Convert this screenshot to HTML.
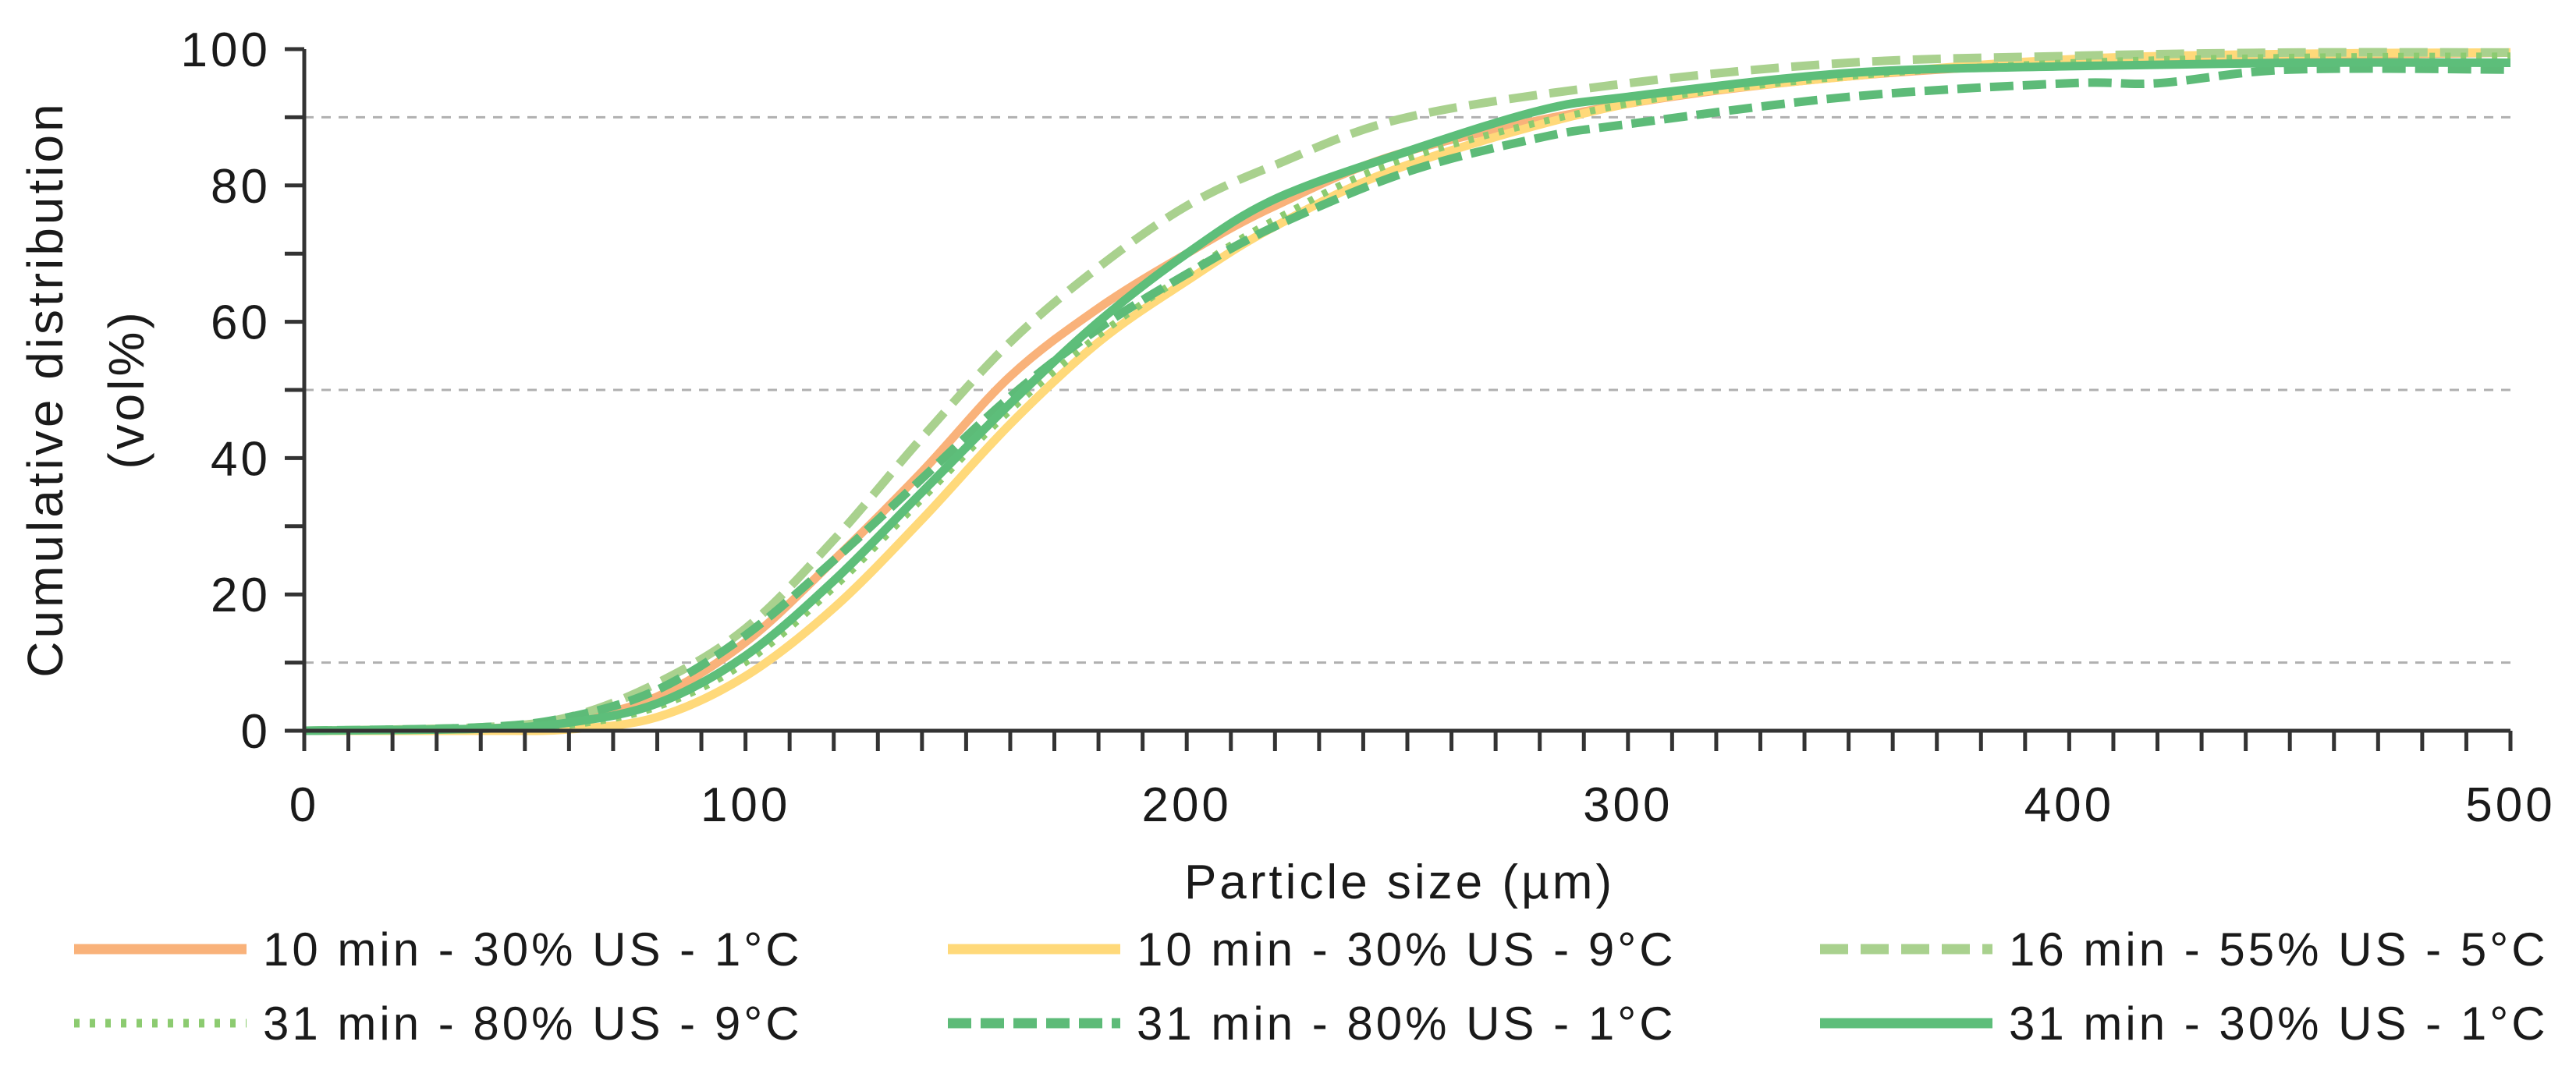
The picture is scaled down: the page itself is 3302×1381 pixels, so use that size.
<!DOCTYPE html>
<html><head><meta charset="utf-8"><style>
html,body{margin:0;padding:0;background:#fff;}
svg text{font-family:"Liberation Sans",sans-serif;fill:#1a1a1a;}
</style></head><body>
<svg id="chart" width="3302" height="1376" viewBox="0 0 3302 1376">
<g id="grid"></g>
<g id="series"></g>
<g id="axes"></g>
<text x="1794" y="1152" font-size="62" letter-spacing="4" text-anchor="middle">Particle size (µm)</text>
<text transform="translate(80,499) rotate(-90)" font-size="64" letter-spacing="4" text-anchor="middle">Cumulative distribution</text>
<text transform="translate(184,499) rotate(-90)" font-size="64" letter-spacing="4" text-anchor="middle">(vol%)</text>
<g id="legend"></g>
</svg>
<script>
const xTicks=[0,100,200,300,400,500];
const yTicks=[0,20,40,60,80,100];
const gridVals=[10,50,90];
const names=["10 min - 30% US - 1°C","10 min - 30% US - 9°C","16 min - 55% US - 5°C","31 min - 80% US - 9°C","31 min - 80% US - 1°C","31 min - 30% US - 1°C"];
const xs0=[0,40,60,80,100,120,140,160,180,200,220,250,300,350,400,450,500];
const s0=[0,0.3,1.5,5,13,25,38,52,62,70,77,85,92,96,98,99,99.5];
const xs1=[0,40,60,80,100,120,140,160,180,200,220,250,300,350,400,450,500];
const s1=[0,0,0.2,2,8,18,31,45,57,66,74,83,92,96,98.5,99.3,99.5];
const xs2=[0,40,60,80,100,120,140,160,180,200,220,250,300,350,400,450,500];
const s2=[0,0.5,2,7,15,28,43,57,68,77,83,90,95,98,99,99.5,99.5];
const xs3=[0,40,60,80,100,120,140,160,180,200,220,250,300,350,400,450,500];
const s3=[0,0.2,0.8,3.5,10,21,34,47,58,67,75,84,92,96,98,98.8,99];
const xs4=[0,40,60,80,100,120,140,160,180,200,220,250,280,300,350,400,420,450,500];
const s4=[0,0.5,2,6,14,25,37,49,59,67,74,82,87,89,93,95,95,97,97];
const xs5=[0,40,60,80,100,120,140,160,180,200,220,250,280,300,350,400,450,500];
const s5=[0,0.3,1.2,4,11,22,35,48,60,70,78,85,91,93,96.5,97.5,98,98];
const NS="http://www.w3.org/2000/svg";
const X0=390,X1=3218,Y0=937,Y1=63;
function sx(v){return X0+(v-0)/(500-0)*(X1-X0);}
function sy(v){return Y0-(v-0)/(100-0)*(Y0-Y1);}
function mk(tag,attrs,parent){const e=document.createElementNS(NS,tag);for(const k in attrs)e.setAttribute(k,attrs[k]);parent.appendChild(e);return e;}
const grid=document.getElementById('grid'),axes=document.getElementById('axes'),ser=document.getElementById('series'),leg=document.getElementById('legend');
gridVals.forEach(v=>{const l=mk('line',{x1:X0,x2:X1,y1:sy(v),y2:sy(v),stroke:'#b0b0b0','stroke-width':3,'stroke-dasharray':'12 10'},grid);

});
const styles=[
 {c:'#F9B27A',d:'',w:11},
 {c:'#FFD97A',d:'',w:11},
 {c:'#A9D18E',d:'36 16',w:11},
 {c:'#8CCB70',d:'7 13',w:9},
 {c:'#5DBB78',d:'30 12',w:11},
 {c:'#5DBE7A',d:'',w:11}];
const data=[[xs0,s0],[xs1,s1],[xs2,s2],[xs3,s3],[xs4,s4],[xs5,s5]];
function pathFor(xs,ys){const p=xs.map((x,i)=>[sx(x),sy(ys[i])]);let d='M'+p[0][0]+','+p[0][1];
for(let i=0;i<p.length-1;i++){const a=p[Math.max(0,i-1)],b=p[i],c=p[i+1],e=p[Math.min(p.length-1,i+2)];
const c1=[b[0]+(c[0]-a[0])/6,b[1]+(c[1]-a[1])/6],c2=[c[0]-(e[0]-b[0])/6,c[1]-(e[1]-b[1])/6];
d+=' C'+c1[0]+','+c1[1]+' '+c2[0]+','+c2[1]+' '+c[0]+','+c[1];}return d;}
data.forEach((dd,i)=>{const st=styles[i];const p=mk('path',{d:pathFor(dd[0],dd[1]),fill:'none',stroke:st.c,'stroke-width':st.w,'stroke-dasharray':st.d,'stroke-linejoin':'round'},ser);

});
const ya=mk('line',{x1:X0,x2:X0,y1:Y1,y2:Y0,stroke:'#333','stroke-width':5},axes);


const xa=mk('line',{x1:X0-25,x2:X1,y1:Y0,y2:Y0,stroke:'#333','stroke-width':5},axes);


for(let v=0;v<=100;v+=10){mk('line',{x1:X0-25,x2:X0,y1:sy(v),y2:sy(v),stroke:'#333','stroke-width':5},axes);}
for(let v=0;v<=500;v+=10){mk('line',{x1:sx(v),x2:sx(v),y1:Y0,y2:Y0+26,stroke:'#333','stroke-width':5},axes);}
yTicks.forEach(v=>{const t=mk('text',{x:347,y:sy(v)+22,'font-size':62,'letter-spacing':4,'text-anchor':'end'},axes);t.textContent=v;

});
xTicks.forEach(v=>{const t=mk('text',{x:sx(v),y:1053,'font-size':62,'letter-spacing':4,'text-anchor':'middle'},axes);t.textContent=v;

});
const colX=[95,1215,2333],rowY=[1217,1312];
names.forEach((n,i)=>{const x=colX[i%3],y=rowY[Math.floor(i/3)],st=styles[i];
const g=mk('g',{},leg);


mk('line',{x1:x,x2:x+221,y1:y,y2:y,stroke:st.c,'stroke-width':st.w+2,'stroke-dasharray':st.d},g);
const t=mk('text',{x:x+242,y:y+21,'font-size':60,'letter-spacing':4},g);t.textContent=n;});
</script>
</body></html>
